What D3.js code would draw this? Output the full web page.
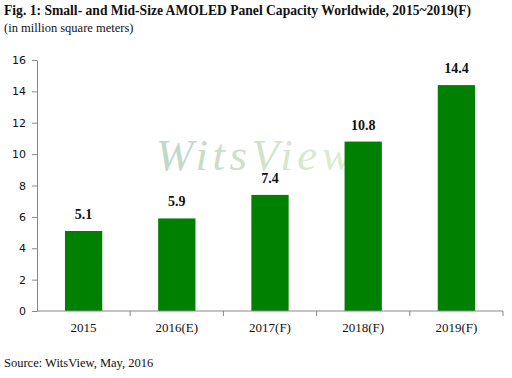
<!DOCTYPE html>
<html><head><meta charset="utf-8">
<script src="https://cdn.jsdelivr.net/npm/d3@7"></script>
<style>body{margin:0;background:#fff}svg{display:block}</style>
</head><body>
<script>
const categories = ["2015","2016(E)","2017(F)","2018(F)","2019(F)"];
const values = [5.1, 5.9, 7.4, 10.8, 14.4];
const yTicks = [0,2,4,6,8,10,12,14,16];

const W = 512, H = 378;
const svg = d3.select("body").append("svg").attr("width", W).attr("height", H);
const m = {left: 37, right: 503, top: 60, bottom: 311};

const x = d3.scaleBand().domain(categories).range([m.left, m.right]).paddingInner(0.6).paddingOuter(0.3);
const y = d3.scaleLinear().domain([0,16]).range([m.bottom, m.top]);

// title
svg.append("text").attr("x",4).attr("y",15).attr("font-family","Liberation Serif, serif")
  .attr("font-weight","bold").attr("font-size",13.6).attr("fill","#111")
  .text("Fig. 1: Small- and Mid-Size AMOLED Panel Capacity Worldwide, 2015~2019(F)");
svg.append("text").attr("x",4).attr("y",32).attr("font-family","Liberation Serif, serif")
  .attr("font-size",12.5).attr("fill","#111").text("(in million square meters)");

// watermark
const defs = svg.append("defs");
const g = defs.append("linearGradient").attr("id","wm").attr("x1","0").attr("x2","1");
g.append("stop").attr("offset","0").attr("stop-color","#bfd6ca");
g.append("stop").attr("offset","1").attr("stop-color","#e0eecb");
svg.append("text").attr("x",156).attr("y",170).attr("font-family","Liberation Serif, serif")
  .attr("font-style","italic").attr("font-size",45).attr("letter-spacing",4.5).attr("fill","url(#wm)")
  .text("WitsView");

// bars
svg.selectAll("rect.bar").data(values).enter().append("rect")
  .attr("x",(d,i)=>x(categories[i])).attr("width",x.bandwidth())
  .attr("y",d=>y(d)).attr("height",d=>y(0)-y(d)).attr("fill","#008000");

svg.selectAll("text.val").data(values).enter().append("text")
  .attr("x",(d,i)=>x(categories[i])+x.bandwidth()/2).attr("y",d=>y(d)-12)
  .attr("text-anchor","middle").attr("font-family","Liberation Serif, serif")
  .attr("font-weight","bold").attr("font-size",14).attr("fill","#111").text(d=>d.toFixed(1));

// y axis
const ya = svg.append("g").attr("transform",`translate(${m.left},0)`)
  .call(d3.axisLeft(y).tickValues(yTicks).tickSize(5).tickPadding(6).tickSizeOuter(0));
ya.select(".domain").attr("stroke","#888");
ya.selectAll(".tick line").attr("stroke","#888");
ya.selectAll(".tick text").attr("font-family","DejaVu Sans, sans-serif").attr("font-size",11).attr("fill","#111");

// x axis
const xa = svg.append("g").attr("transform",`translate(0,${m.bottom})`)
  .call(d3.axisBottom(x).tickSize(0).tickPadding(12));
xa.select(".domain").attr("stroke","#888").attr("d",`M${m.left},0H${m.right}`);
xa.selectAll(".tick text").attr("font-family","Liberation Serif, serif").attr("font-size",13).attr("fill","#111");
const bounds = categories.map((c,i)=>x(c)+x.bandwidth()/2 + x.step()/2);
xa.selectAll("line.sep").data(bounds).enter().append("line").attr("class","sep")
  .attr("x1",d=>d).attr("x2",d=>d).attr("y1",0).attr("y2",5).attr("stroke","#888");

svg.append("text").attr("x",4).attr("y",367).attr("font-family","Liberation Serif, serif")
  .attr("font-size",12.5).attr("fill","#111").text("Source: WitsView, May, 2016");
</script>
</body></html>
